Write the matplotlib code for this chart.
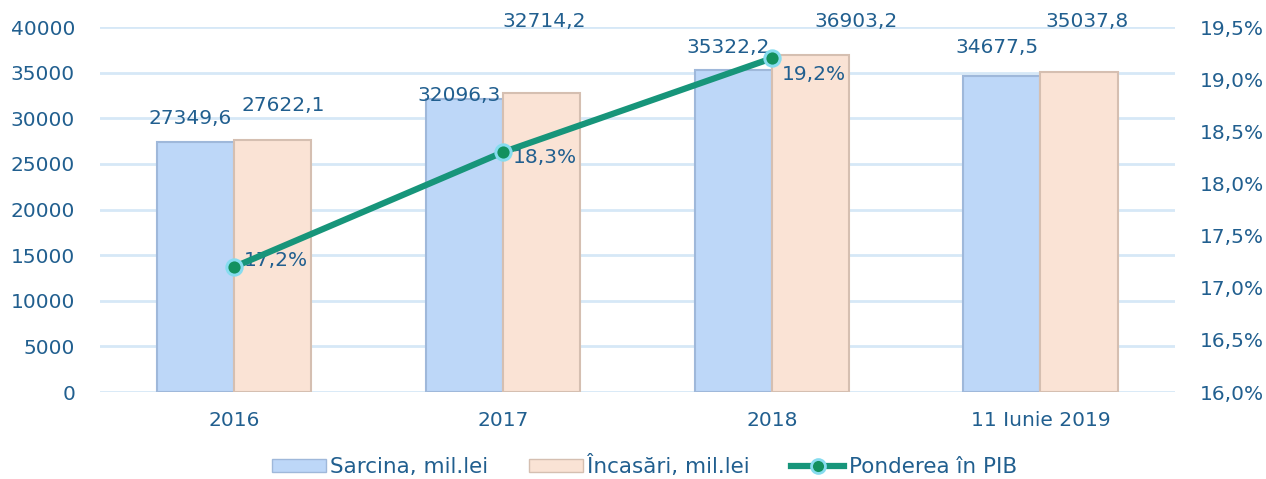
import matplotlib
matplotlib.use("Agg")

import matplotlib.pyplot as plt
import numpy as np
from matplotlib.lines import Line2D
from matplotlib.patches import Patch

categories = ["2016", "2017", "2018", "11 Iunie 2019"]
sarcina = [27349.6, 32096.3, 35322.2, 34677.5]
incasari = [27622.1, 32714.2, 36903.2, 35037.8]
pondere = [17.2, 18.3, 19.2]

sarcina_labels = ["27349,6", "32096,3", "35322,2", "34677,5"]
incasari_labels = ["27622,1", "32714,2", "36903,2", "35037,8"]
pondere_labels = ["17,2%", "18,3%", "19,2%"]

# label heights (data units), Excel put them a bit randomly
sarcina_lab_y = [30000, 32450, 37800, 37800]
incasari_lab_y = [31450, 40550, 40550, 40550]
incasari_lab_dx = [0.04, 0.01, 0.17, 0.03]
pondere_lab_dy = [4.5, -3.5, -11.5]  # points

txt = "#215F8F"
blue, blue_edge = "#BDD7F8", "#9FB8DA"
peach, peach_edge = "#FAE3D5", "#D5BFB1"
green = "#17957A"
grid = "#D6E8F7"

plt.rcParams["font.family"] = ["DejaVu Sans"]

fig = plt.figure(figsize=(12.66, 4.79), dpi=100)
ax = fig.add_axes([0.079, 0.1816, 0.849, 0.762])
ax2 = ax.twinx()

x = np.arange(len(categories))
w = 0.287
ax.bar(x - w / 2, sarcina, w, color=blue, edgecolor=blue_edge, linewidth=1.5, zorder=2)
ax.bar(x + w / 2, incasari, w, color=peach, edgecolor=peach_edge, linewidth=1.5, zorder=2)

for i in range(len(categories)):
    ax.text(x[i] - w / 2 - 0.02, sarcina_lab_y[i], sarcina_labels[i], ha="center", va="center",
            fontsize=14.5, color=txt, clip_on=False, zorder=5)
    ax.text(x[i] + w / 2 + incasari_lab_dx[i], incasari_lab_y[i], incasari_labels[i], ha="center",
            va="center", fontsize=14.5, color=txt, clip_on=False, zorder=5)

ax.set_xlim(-0.5, 3.5)
ax.set_ylim(0, 40000)
ax.set_yticks(range(0, 40001, 5000))
ax.set_xticks(x)
ax.set_xticklabels(categories)
ax.yaxis.grid(True, color=grid, linewidth=2)
ax.set_axisbelow(True)
ax.tick_params(axis="both", length=0, labelsize=14.5, labelcolor=txt)
ax.tick_params(axis="y", pad=18)
ax.tick_params(axis="x", pad=14)
for s in ax.spines.values():
    s.set_visible(False)

ax2.plot(x[:3], pondere, color=green, linewidth=4.5, marker="o", markersize=11,
         markerfacecolor="#13915F", markeredgecolor="#86DCEF", markeredgewidth=2.2, zorder=4)
for i in range(len(pondere)):
    ax2.annotate(pondere_labels[i], (x[i], pondere[i]), xytext=(7, pondere_lab_dy[i]),
                 textcoords="offset points", ha="left", va="center", fontsize=14.5, color=txt)
ax2.set_ylim(16, 19.5)
ax2.set_yticks(np.arange(16, 19.51, 0.5))
ax2.set_yticklabels([f"{v:.1f}%".replace(".", ",") for v in np.arange(16, 19.51, 0.5)])
ax2.tick_params(axis="y", length=0, labelsize=14.5, labelcolor=txt, pad=18)
for s in ax2.spines.values():
    s.set_visible(False)

handles = [
    Patch(facecolor=blue, edgecolor=blue_edge),
    Patch(facecolor=peach, edgecolor=peach_edge),
    Line2D([0], [0], color=green, linewidth=4.5, marker="o", markersize=10,
           markerfacecolor="#13915F", markeredgecolor="#86DCEF", markeredgewidth=2),
]
fig.legend(handles, ["Sarcina, mil.lei", "Încasări, mil.lei", "Ponderea în PIB"],
           loc="center", bbox_to_anchor=(0.509, 0.027), ncol=3, frameon=False,
           fontsize=15.5, labelcolor=txt, handlelength=2.5, handleheight=0.6,
           handletextpad=0.2, columnspacing=1.9)

fig.savefig("out.png", dpi=100)
